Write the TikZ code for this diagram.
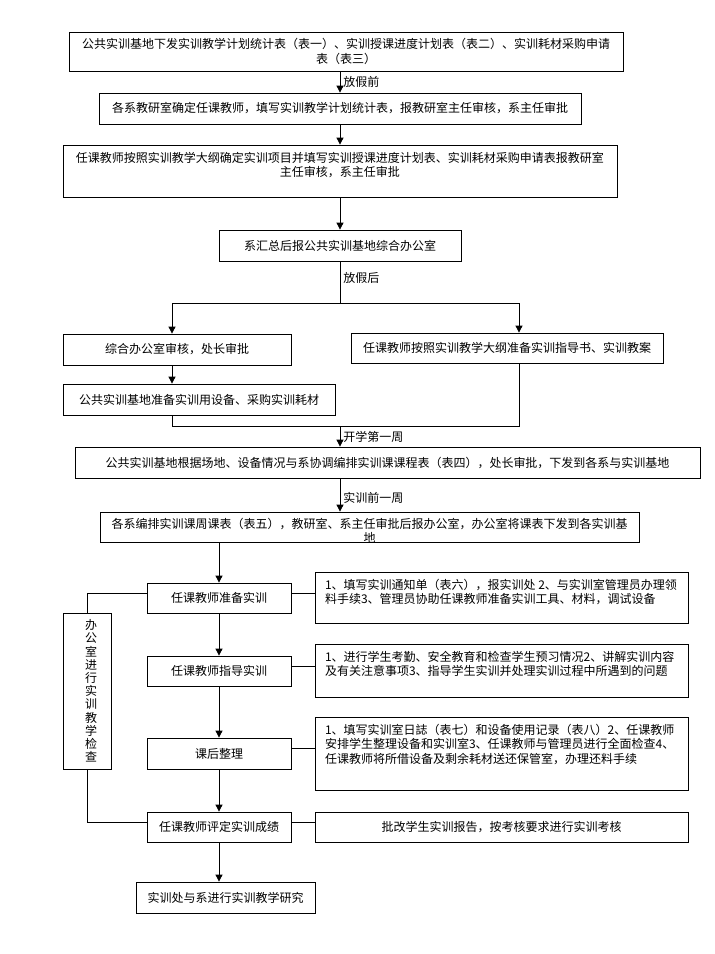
\documentclass[tikz,border=0pt]{standalone}
\usepackage{fontspec}
\newfontfamily\cjk{Noto Sans CJK SC}
\usetikzlibrary{arrows.meta}
\newcommand\tbox[5]{\parbox[c][#1][t]{#2}{#4\vspace*{#3}#5\par}}
\begin{document}
\begin{tikzpicture}[x=1pt,y=-1pt,
  every node/.style={font=\cjk\fontsize{12}{14.5}\selectfont, inner sep=0pt},
  box/.style={draw, line width=0.8pt, align=center},
  pbox/.style={draw, line width=0.8pt},
  arr/.style={-{Triangle[width=7pt,length=7pt]}},
  line width=0.8pt]
\fill[white] (0,0) rectangle (715,954);
\useasboundingbox (0,0) rectangle (715,954);

\node[box, minimum width=554pt, minimum height=39pt] (b1) at (346,51.5)
  {公共实训基地下发实训教学计划统计表（表一）、实训授课进度计划表（表二）、实训耗材采购申请\\表（表三）};
\node[box, minimum width=482pt, minimum height=31pt] (b2) at (340,108.5)
  {各系教研室确定任课教师，填写实训教学计划统计表，报教研室主任审核，系主任审批};
\node[pbox] (b3) at (340,171)
  {\tbox{52pt}{554pt}{7pt}{\centering}{任课教师按照实训教学大纲确定实训项目并填写实训授课进度计划表、实训耗材采购申请表报教研室\\主任审核，系主任审批}};
\node[box, minimum width=242pt, minimum height=31pt] (b4) at (340,245.5)
  {系汇总后报公共实训基地综合办公室};
\node[box, minimum width=228pt, minimum height=31pt] (b5) at (177,349.5)
  {综合办公室审核，处长审批};
\node[box, minimum width=312pt, minimum height=30pt] (b6) at (507,348)
  {任课教师按照实训教学大纲准备实训指导书、实训教案};
\node[box, minimum width=272pt, minimum height=31pt] (b7) at (199,399.5)
  {公共实训基地准备实训用设备、采购实训耗材};
\node[box, minimum width=625pt, minimum height=31pt] (b8) at (387.5,462.5)
  {公共实训基地根据场地、设备情况与系协调编排实训课课程表（表四），处长审批，下发到各系与实训基地};
\node[pbox] (b9) at (369.5,527)
  {\tbox{30pt}{539pt}{6pt}{\centering}{各系编排实训课周课表（表五），教研室、系主任审批后报办公室，办公室将课表下发到各实训基\\地}};

\node[box, minimum width=144pt, minimum height=30pt] (b10) at (219,598) {任课教师准备实训};
\node[pbox] (b10r) at (501.5,597.5)
  {\tbox{51pt}{373pt}{7pt}{\raggedright\leftskip=10pt\relax}{1、填写实训通知单（表六），报实训处 2、与实训室管理员办理领\\料手续3、管理员协助任课教师准备实训工具、材料，调试设备}};
\node[box, minimum width=144pt, minimum height=30pt] (b11) at (219,671) {任课教师指导实训};
\node[pbox] (b11r) at (501.5,670.5)
  {\tbox{53pt}{373pt}{7pt}{\raggedright\leftskip=10pt\relax}{1、进行学生考勤、安全教育和检查学生预习情况2、讲解实训内容\\及有关注意事项3、指导学生实训并处理实训过程中所遇到的问题}};
\node[box, minimum width=144pt, minimum height=31pt] (b12) at (219,753.5) {课后整理};
\node[pbox] (b12r) at (501.5,753.5)
  {\tbox{73pt}{373pt}{7pt}{\raggedright\leftskip=10pt\relax}{1、填写实训室日誌（表七）和设备使用记录（表八）2、任课教师\\安排学生整理设备和实训室3、任课教师与管理员进行全面检查4、\\任课教师将所借设备及剩余耗材送还保管室，办理还料手续}};
\node[box, minimum width=144pt, minimum height=30pt] (b13) at (219,827) {任课教师评定实训成绩};
\node[box, minimum width=373pt, minimum height=30pt] (b13r) at (501.5,827) {批改学生实训报告，按考核要求进行实训考核};
\node[box, minimum width=179pt, minimum height=31pt] (b14) at (225.5,897.5) {实训处与系进行实训教学研究};
\node[pbox] (chk) at (87,691)
  {\parbox[c][156pt][c]{48pt}{\fontsize{12}{13.2}\selectfont\centering\leftskip=8pt plus 1fil\relax
   办\\公\\室\\进\\行\\实\\训\\教\\学\\检\\查\par}};

\node[anchor=west] (l1) at (343,82) {放假前};
\node[anchor=west] (l2) at (343,278) {放假后};
\node[anchor=west] (l3) at (343,437) {开学第一周};
\node[anchor=west] (l4) at (343,498) {实训前一周};

\coordinate (sl) at (172,303);
\coordinate (sm) at (340,303);
\coordinate (sr) at (519,303);
\coordinate (jl) at (172,426);
\coordinate (jm) at (340,426);
\coordinate (jr) at (519,426);

\draw[arr] (b1.south -| b2.north) -- (b2.north);
\draw[arr] (b2.south) -- (b3.north);
\draw[arr] (b3.south) -- (b4.north);
\draw (b4.south) -- (sm);
\draw (sl) -- (sr);
\draw[arr] (sl) -- (sl |- b5.north);
\draw[arr] (sr) -- (sr |- b6.north);
\draw[arr] (sl |- b5.south) -- (sl |- b7.north);
\draw (sl |- b7.south) -- (jl) -- (jr) -- (sr |- b6.south);
\draw[arr] (jm) -- (jm |- b8.north);
\draw[arr] (jm |- b8.south) -- (jm |- b9.north);
\draw[arr] (b10.north |- b9.south) -- (b10.north);
\draw[arr] (b10.south) -- (b11.north);
\draw[arr] (b11.south) -- (b12.north);
\draw[arr] (b12.south) -- (b13.north);
\draw[arr] (b13.south) -- (b13.south |- b14.north);

\draw ([yshift=5pt]b10.east) -- ([yshift=5pt]b10.east -| b10r.west);
\draw ([yshift=5pt]b11.east) -- ([yshift=5pt]b11.east -| b11r.west);
\draw ([yshift=5pt]b12.east) -- ([yshift=5pt]b12.east -| b12r.west);
\draw ([yshift=5pt]b13.east) -- ([yshift=5pt]b13.east -| b13r.west);
\draw ([yshift=5pt]b10.west) -| (chk.north);
\draw (chk.south) |- ([yshift=5pt]b13.west);
\end{tikzpicture}
\end{document}
